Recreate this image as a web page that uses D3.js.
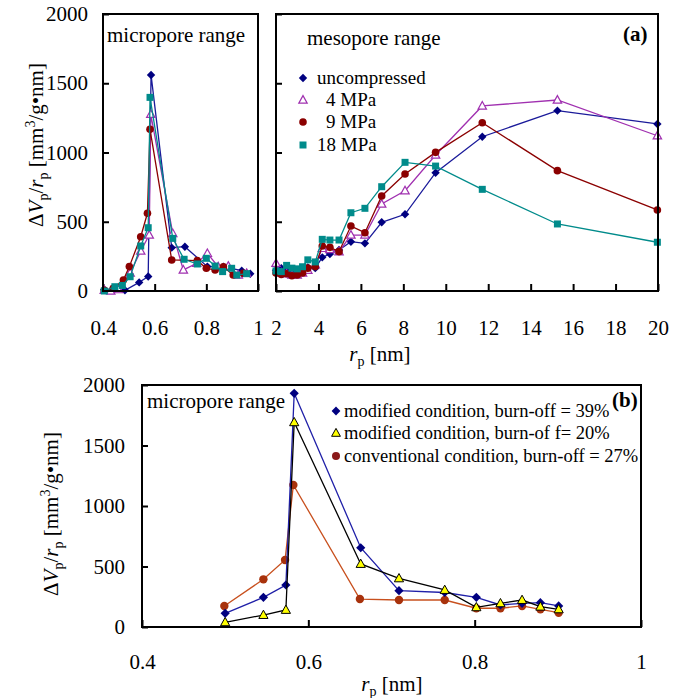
<!DOCTYPE html>
<html><head><meta charset="utf-8">
<script src="https://cdn.jsdelivr.net/npm/d3@7"></script>
<style>
body{margin:0;background:#fff;}
svg text{font-family:"Liberation Serif","Times New Roman",Times,"Nimbus Roman","DejaVu Serif",serif !important;fill:#000;}
</style></head>
<body><svg id="c" width="679" height="698"></svg>
<script>
// ---------- DATA ----------
const yTickValues = [0, 500, 1000, 1500, 2000];
const microTickValues = [0.4, 0.6, 0.8, 1.0];
const microTickLabels = ["0.4", "0.6", "0.8", "1"];
const mesoTickValues = [2, 4, 6, 8, 10, 12, 14, 16, 18, 20];
const mesoTickLabels = ["2", "4", "6", "8", "10", "12", "14", "16", "18", "20"];

// Panel (a) micropore range
const microUncR = [0.405, 0.44, 0.485, 0.54, 0.575, 0.586, 0.666, 0.717, 0.804, 0.866, 0.937, 0.97];
const microUncV = [10, 8, 5, 62, 105, 1560, 313, 320, 176, 175, 147, 125];
const micro4R = [0.405, 0.43, 0.46, 0.505, 0.546, 0.579, 0.585, 0.67, 0.711, 0.763, 0.804, 0.846, 0.885, 0.924, 0.956];
const micro4V = [5, 0, 10, 130, 289, 404, 1276, 416, 152, 200, 272, 175, 180, 115, 128];
const micro9R = [0.405, 0.44, 0.479, 0.502, 0.546, 0.572, 0.582, 0.666, 0.765, 0.80, 0.834, 0.866, 0.904, 0.943];
const micro9V = [5, 20, 79, 176, 392, 561, 1167, 224, 219, 164, 152, 175, 115, 128];
const micro18R = [0.405, 0.446, 0.475, 0.505, 0.546, 0.575, 0.582, 0.67, 0.714, 0.765, 0.80, 0.834, 0.863, 0.898, 0.918, 0.956];
const micro18V = [0, 31, 40, 103, 325, 457, 1398, 380, 229, 195, 236, 180, 140, 164, 115, 125];

// Panel (a) mesopore range
const mesoR = [2.0, 2.25, 2.5, 2.75, 3.0, 3.25, 3.5, 3.85, 4.18, 4.54, 4.97, 5.53, 6.19, 6.98, 8.08, 9.52, 11.72, 15.26, 19.97];
const mesoUncV = [150, 165, 150, 140, 145, 150, 170, 165, 243, 267, 296, 356, 344, 496, 554, 854, 1114, 1302, 1206];
const meso4V = [200, 130, 125, 115, 115, 130, 150, 190, 308, 300, 284, 404, 404, 628, 724, 982, 1336, 1379, 1121];
const meso9V = [130, 120, 125, 110, 115, 130, 165, 176, 325, 315, 284, 469, 421, 686, 845, 1001, 1215, 869, 585];
const meso18V = [145, 140, 185, 165, 160, 175, 225, 210, 373, 368, 368, 565, 597, 753, 929, 902, 734, 484, 352];
const legendA = ["uncompressed", "4 MPa", "9 MPa", "18 MPa"];

// Panel (b)
const bR = [0.50, 0.546, 0.573, 0.583, 0.663, 0.709, 0.764, 0.802, 0.831, 0.857, 0.879, 0.901];
const b39V = [113, 245, 347, 1931, 655, 300, 285, 245, 182, 196, 201, 174];
const b20V = [39, 99, 141, 1692, 521, 402, 306, 163, 196, 223, 168, 146];
const b27R = [0.499, 0.546, 0.572, 0.582, 0.662, 0.709, 0.764, 0.802, 0.831, 0.857, 0.879, 0.901];
const b27V = [174, 394, 554, 1174, 231, 223, 223, 155, 155, 174, 146, 118];
const legendB = ["modified condition, burn-off = 39%", "modified condition, burn-of f= 20%", "conventional condition, burn-off = 27%"];

// ---------- DRAW ----------
const svg = d3.select("#c");
const FS = 21;
const FONT = '"Liberation Serif","Times New Roman",Times,"Nimbus Roman","DejaVu Serif",serif';

const xMicro = d3.scaleLinear([0.4, 1.0], [103, 258]);
const xMeso = d3.scaleLinear([2, 20], [276, 658]);
const yTop = d3.scaleLinear([0, 2000], [291, 14]);
const xB = d3.scaleLinear([0.4, 1.0], [142, 641]);
const yB = d3.scaleLinear([0, 2000], [627, 385]);

function marker(g, type, x, y, s, fill, stroke, sw) {
  let p;
  if (type === "diamond") {
    p = `M${x},${y - s}L${x + s},${y}L${x},${y + s}L${x - s},${y}Z`;
  } else if (type === "square") {
    p = `M${x - s},${y - s}h${2 * s}v${2 * s}h${-2 * s}Z`;
  } else if (type === "triangle") {
    p = `M${x},${y - s * 1.05}L${x + s},${y + s * 0.75}L${x - s},${y + s * 0.75}Z`;
  }
  if (type === "circle") {
    g.append("circle").attr("cx", x).attr("cy", y).attr("r", s)
      .attr("fill", fill).attr("stroke", stroke || "none").attr("stroke-width", sw || 0);
  } else {
    g.append("path").attr("d", p).attr("fill", fill)
      .attr("stroke", stroke || "none").attr("stroke-width", sw || 0);
  }
}

function series(xs, ys, xScale, yScale, lineColor, mtype, msize, mfill, mstroke, msw) {
  const pts = xs.map((r, i) => [xScale(r), yScale(ys[i])]);
  const g = svg.append("g");
  g.append("path").attr("d", d3.line()(pts)).attr("fill", "none")
    .attr("stroke", lineColor).attr("stroke-width", 1.3);
  pts.forEach(p => marker(g, mtype, p[0], p[1], msize, mfill, mstroke, msw));
}

function styleAxis(g) {
  g.attr("font-family", FONT);
  g.select(".domain").remove();
  g.selectAll(".tick line").attr("stroke", "#000").attr("stroke-width", 2);
  g.selectAll(".tick text").style("font-size", FS + "px").attr("fill", "#000");
}

// Top axes
svg.append("g").attr("transform", "translate(103,0)")
  .call(d3.axisLeft(yTop).tickValues(yTickValues).tickSize(-6).tickPadding(15).tickFormat(d3.format("d")))
  .call(styleAxis);
svg.append("g").attr("transform", "translate(276,0)")
  .call(d3.axisLeft(yTop).tickValues(yTickValues).tickSize(-6).tickFormat(""))
  .call(styleAxis);
svg.append("g").attr("transform", "translate(0,291)")
  .call(d3.axisBottom(xMicro).tickValues(microTickValues).tickSize(-7).tickPadding(29).tickFormat((d, i) => microTickLabels[i]))
  .call(styleAxis);
svg.append("g").attr("transform", "translate(0,291)")
  .call(d3.axisBottom(xMeso).tickValues(mesoTickValues).tickSize(-7).tickPadding(29).tickFormat((d, i) => mesoTickLabels[i]))
  .call(styleAxis);

// Bottom axes
svg.append("g").attr("transform", "translate(142,0)")
  .call(d3.axisLeft(yB).tickValues(yTickValues).tickSize(-6).tickPadding(17).tickFormat(d3.format("d")))
  .call(styleAxis);
svg.append("g").attr("transform", "translate(0,627)")
  .call(d3.axisBottom(xB).tickValues(microTickValues).tickSize(-7).tickPadding(27).tickFormat((d, i) => microTickLabels[i]))
  .call(styleAxis);

// Series panel (a)
const cNavy = "#000080", cPurp = "#A030B0", cRed = "#8B0000", cTeal = "#008B8B";
series(microUncR, microUncV, xMicro, yTop, "#1a1a9a", "diamond", 4.2, cNavy);
series(micro4R, micro4V, xMicro, yTop, cPurp, "triangle", 4.2, "#fff", cPurp, 1.2);
series(micro9R, micro9V, xMicro, yTop, cRed, "circle", 3.8, cRed);
series(micro18R, micro18V, xMicro, yTop, cTeal, "square", 3.5, cTeal);

series(mesoR, mesoUncV, xMeso, yTop, "#1a1a9a", "diamond", 4.2, cNavy);
series(mesoR, meso4V, xMeso, yTop, cPurp, "triangle", 4.2, "#fff", cPurp, 1.2);
series(mesoR, meso9V, xMeso, yTop, cRed, "circle", 3.8, cRed);
series(mesoR, meso18V, xMeso, yTop, cTeal, "square", 3.5, cTeal);

// Series panel (b)
series(b27R, b27V, xB, yB, "#C8501E", "circle", 4.2, "#A8320C");
series(bR, b39V, xB, yB, "#2020A8", "diamond", 4.6, cNavy);
series(bR, b20V, xB, yB, "#000", "triangle", 4.6, "#FFFF00", "#000", 1);

// Frames
svg.append("rect").attr("x", 103).attr("y", 14).attr("width", 155).attr("height", 277)
  .attr("fill", "none").attr("stroke", "#000").attr("stroke-width", 2);
svg.append("rect").attr("x", 276).attr("y", 14).attr("width", 382).attr("height", 277)
  .attr("fill", "none").attr("stroke", "#000").attr("stroke-width", 2);
svg.append("rect").attr("x", 142).attr("y", 385).attr("width", 499).attr("height", 242)
  .attr("fill", "none").attr("stroke", "#000").attr("stroke-width", 2);

const T = () => svg.append("text").attr("font-family", FONT);

// Texts panel (a)
T().attr("x", 107).attr("y", 42).style("font-size", FS + "px").text("micropore range");
T().attr("x", 307).attr("y", 45).style("font-size", FS + "px").text("mesopore range");
T().attr("x", 623).attr("y", 41).style("font-size", FS + "px").style("font-weight", "bold").text("(a)");

const legAY = [78, 100, 122, 145];
const legAX = [317, 326, 326, 317];
const legAStyle = [
  ["diamond", 4.2, cNavy, null, 0],
  ["triangle", 4.2, "#fff", cPurp, 1.2],
  ["circle", 3.8, cRed, null, 0],
  ["square", 3.5, cTeal, null, 0]
];
legendA.forEach((t, i) => {
  const s = legAStyle[i];
  marker(svg, s[0], 303, legAY[i], s[1], s[2], s[3], s[4]);
  T().attr("x", legAX[i]).attr("y", legAY[i] + 6).style("font-size", "19px").text(t);
});

// Panel (b) texts
T().attr("x", 147).attr("y", 408).style("font-size", FS + "px").text("micropore range");
T().attr("x", 612).attr("y", 407).style("font-size", FS + "px").style("font-weight", "bold").text("(b)");
const legBY = [411, 433, 456];
const legBStyle = [
  ["diamond", 4.4, cNavy, null, 0],
  ["triangle", 4.4, "#FFFF00", "#000", 1],
  ["circle", 4, "#8B1A1A", null, 0]
];
legendB.forEach((t, i) => {
  const s = legBStyle[i];
  marker(svg, s[0], 336, legBY[i], s[1], s[2], s[3], s[4]);
  T().attr("x", 344).attr("y", legBY[i] + 6).style("font-size", "18.5px").text(t);
});

// Axis titles
function xTitle(cx, y) {
  const t = T().attr("x", cx).attr("y", y).attr("text-anchor", "middle").style("font-size", FS + "px");
  t.append("tspan").style("font-style", "italic").text("r");
  t.append("tspan").attr("dy", 5).style("font-size", "14px").text("p");
  t.append("tspan").attr("dy", -5).text(" [nm]");
}
xTitle(380, 361);
xTitle(392, 691);

function yTitle(x, cy) {
  const t = T().attr("transform", `translate(${x},${cy}) rotate(-90)`)
    .attr("text-anchor", "middle").style("font-size", FS + "px");
  t.append("tspan").text("Δ");
  t.append("tspan").style("font-style", "italic").text("V");
  t.append("tspan").attr("dy", 5).style("font-size", "14px").text("p");
  t.append("tspan").attr("dy", -5).text("/");
  t.append("tspan").style("font-style", "italic").text("r");
  t.append("tspan").attr("dy", 5).style("font-size", "14px").text("p");
  t.append("tspan").attr("dy", -5).text(" [mm");
  t.append("tspan").attr("dy", -8).style("font-size", "14px").text("3");
  t.append("tspan").attr("dy", 8).text("/g•nm]");
}
yTitle(43, 145);
yTitle(58, 514);
</script></body></html>
